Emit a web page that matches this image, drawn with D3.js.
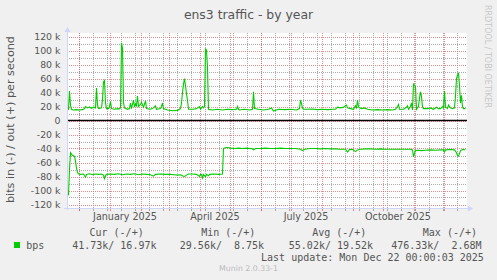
<!DOCTYPE html>
<html><head><meta charset="utf-8">
<script src="https://cdn.jsdelivr.net/npm/d3@7"></script>
<style>
body{margin:0;background:#f0f0f0}
svg{display:block}
text{font-family:"DejaVu Sans",sans-serif}
.mono{font-family:"DejaVu Sans Mono",monospace;white-space:pre}
</style>
</head><body>
<svg id="c" width="497" height="280"></svg>
<script>
// ---------- DATA ----------
const title = "ens3 traffic - by year";
const yAxisTitle = "bits in (-) / out (+) per second";
// outbound (+) traffic, k bits/s
const outSeries = [
["2024-11-19",15],["2024-11-20",16],["2024-11-21",42],["2024-11-22",22],["2024-11-23",16],["2024-11-25",15],
["2024-11-28",15.5],["2024-12-01",15],["2024-12-04",15.5],["2024-12-06",17],["2024-12-07",20],["2024-12-09",18],
["2024-12-11",19.5],["2024-12-13",17.5],["2024-12-15",19],["2024-12-17",18],["2024-12-18",46.5],["2024-12-19",22],
["2024-12-20",17],["2024-12-23",18],["2024-12-24",30],["2024-12-25",55],["2024-12-26",57],["2024-12-27",25],
["2024-12-28",17],["2024-12-30",17],["2024-12-31",20],["2025-01-01",27.5],["2025-01-02",17],["2025-01-05",16],
["2025-01-08",17],["2025-01-10",16.5],["2025-01-11",18],["2025-01-12",111],["2025-01-13",103],["2025-01-14",25],
["2025-01-15",18],["2025-01-18",16],["2025-01-20",17],["2025-01-21",25],["2025-01-22",17],["2025-01-24",29],
["2025-01-25",19],["2025-01-26",24],["2025-01-27",21],["2025-01-28",35],["2025-01-29",20],["2025-01-31",23],
["2025-02-01",26],["2025-02-02",22],["2025-02-03",19],["2025-02-05",28],["2025-02-06",17],["2025-02-10",16],
["2025-02-13",18],["2025-02-15",21],["2025-02-16",16],["2025-02-20",17],["2025-02-21",20],["2025-02-22",25],
["2025-02-23",17],["2025-02-27",15],["2025-03-04",14],["2025-03-09",14.5],["2025-03-12",17],["2025-03-13",25],
["2025-03-14",40],["2025-03-15",52],["2025-03-16",60],["2025-03-17",50],["2025-03-18",38],["2025-03-19",29],
["2025-03-20",16],["2025-03-25",16],["2025-03-28",17],["2025-03-31",20],["2025-04-01",16],["2025-04-03",20],
["2025-04-04",18],["2025-04-05",20],["2025-04-06",103],["2025-04-07",100],["2025-04-08",75],["2025-04-09",16],
["2025-04-13",15],["2025-04-18",16],["2025-04-23",15],["2025-04-28",16],["2025-05-03",15.5],["2025-05-07",16],
["2025-05-08",20],["2025-05-09",16],["2025-05-10",15],["2025-05-15",16],["2025-05-20",15],["2025-05-23",16],
["2025-05-24",41],["2025-05-25",17],["2025-05-29",16],["2025-06-03",15],["2025-06-08",16],["2025-06-11",18],
["2025-06-13",13.5],["2025-06-18",16],["2025-06-24",15.5],["2025-06-30",16],["2025-07-06",15],["2025-07-09",17],
["2025-07-10",29],["2025-07-11",24],["2025-07-12",18],["2025-07-13",16],["2025-07-17",16],["2025-07-22",16.5],
["2025-07-27",15.5],["2025-08-01",16],["2025-08-06",15.5],["2025-08-11",16],["2025-08-14",16],["2025-08-16",19],
["2025-08-19",18],["2025-08-22",19],["2025-08-24",21],["2025-08-25",22],["2025-08-26",18],["2025-08-29",17],
["2025-09-01",16],["2025-09-03",21],["2025-09-04",18],["2025-09-05",29],["2025-09-06",19],["2025-09-09",17],
["2025-09-12",18],["2025-09-15",16],["2025-09-20",15],["2025-09-25",15.5],["2025-09-30",15],["2025-10-05",15.5],
["2025-10-10",15],["2025-10-13",16],["2025-10-15",20],["2025-10-16",23],["2025-10-17",16],["2025-10-21",16],
["2025-10-24",19],["2025-10-25",21],["2025-10-26",16],["2025-10-28",20],["2025-10-29",25],["2025-10-30",15],
["2025-10-31",53],["2025-11-01",50],["2025-11-02",48],["2025-11-03",16],["2025-11-05",20],["2025-11-06",32],
["2025-11-07",41],["2025-11-08",34],["2025-11-09",20],["2025-11-10",17],["2025-11-14",17],["2025-11-17",18],
["2025-11-20",16],["2025-11-23",19],["2025-11-25",17],["2025-11-27",17],["2025-11-29",20],["2025-11-30",18],
["2025-12-01",42],["2025-12-02",19],["2025-12-04",17],["2025-12-05",22],["2025-12-07",18],["2025-12-09",17],
["2025-12-11",18],["2025-12-12",35],["2025-12-13",60],["2025-12-14",65],["2025-12-15",67],["2025-12-16",50],
["2025-12-17",25],["2025-12-18",36],["2025-12-19",20],["2025-12-20",17],["2025-12-22",17]
];
// inbound (-) traffic, k bits/s (drawn below zero)
const inSeries = [
["2024-11-19",105],["2024-11-20",106],["2024-11-21",70],["2024-11-22",46],["2024-11-23",48],["2024-11-24",50],
["2024-11-26",51],["2024-11-27",58],["2024-11-28",68],["2024-11-29",74],["2024-11-30",76],["2024-12-02",77],
["2024-12-05",76.5],["2024-12-07",81],["2024-12-08",77],["2024-12-11",76],["2024-12-14",77.5],["2024-12-17",76.5],
["2024-12-20",77],["2024-12-23",76.5],["2024-12-25",78],["2024-12-26",83],["2024-12-27",79],["2024-12-28",77],
["2025-01-01",76.5],["2025-01-05",77],["2025-01-09",76],["2025-01-13",77.5],["2025-01-17",76.5],["2025-01-21",77],
["2025-01-25",76],["2025-01-29",77.5],["2025-02-02",76.5],["2025-02-06",77],["2025-02-10",77.5],["2025-02-13",79.5],
["2025-02-15",77],["2025-02-20",76.5],["2025-02-25",77],["2025-03-02",77],["2025-03-06",77.5],["2025-03-09",78],
["2025-03-12",77.5],["2025-03-15",79.5],["2025-03-16",80],["2025-03-18",78],["2025-03-20",76.5],["2025-03-24",76.5],
["2025-03-28",77],["2025-03-31",80],["2025-04-01",77],["2025-04-02",77],["2025-04-03",82],["2025-04-04",77],
["2025-04-06",80.5],["2025-04-07",77],["2025-04-09",79],["2025-04-10",77],["2025-04-14",76.5],["2025-04-19",77],
["2025-04-23",76.5],["2025-04-24",40],["2025-04-26",39],["2025-04-28",38.5],["2025-05-01",39.5],["2025-05-05",40],
["2025-05-09",39.5],["2025-05-13",40],["2025-05-17",39.5],["2025-05-21",40],["2025-05-23",40.5],["2025-05-24",42],
["2025-05-26",40],["2025-05-31",40],["2025-06-05",39.5],["2025-06-10",40],["2025-06-15",40],["2025-06-20",39.5],
["2025-06-25",40],["2025-06-30",40],["2025-07-05",40],["2025-07-10",41],["2025-07-12",43],["2025-07-14",41],
["2025-07-20",40],["2025-07-25",40],["2025-07-30",40.5],["2025-08-04",40],["2025-08-09",40.5],["2025-08-14",40.5],
["2025-08-19",41],["2025-08-24",41],["2025-08-26",45],["2025-08-28",41.5],["2025-08-31",41],["2025-09-03",44.5],
["2025-09-05",42],["2025-09-08",41],["2025-09-13",40.5],["2025-09-18",40.5],["2025-09-23",41],["2025-09-28",40.5],
["2025-10-03",41],["2025-10-08",41],["2025-10-13",41],["2025-10-18",41],["2025-10-23",41],["2025-10-28",41],
["2025-10-30",42],["2025-10-31",52],["2025-11-01",47],["2025-11-02",43],["2025-11-05",42.5],["2025-11-08",43],
["2025-11-12",42.5],["2025-11-17",42],["2025-11-22",42.5],["2025-11-27",42],["2025-11-30",42],["2025-12-01",45],
["2025-12-02",42],["2025-12-07",41.5],["2025-12-11",42],["2025-12-13",46],["2025-12-14",50],["2025-12-15",51],
["2025-12-16",47],["2025-12-17",43],["2025-12-19",41.5],["2025-12-22",41.7]
];
const timeDomain = ["2024-11-19","2025-12-24"];
const valueDomain = [-125000, 125000];
const yTickValues = [-120000,-100000,-80000,-60000,-40000,-20000,0,20000,40000,60000,80000,100000,120000];
const yMinorValues = [-110000,-90000,-70000,-50000,-30000,-10000,10000,30000,50000,70000,90000,110000];
const xLabelMonths = ["2025-01-01","2025-04-01","2025-07-01","2025-10-01"];
const minorGridStart = "2024-12-01";
const legendHeaders = ["Cur (-/+)","Min (-/+)","Avg (-/+)","Max (-/+)"];
const legendValues = ["41.73k/ 16.97k","29.56k/  8.75k","55.02k/ 19.52k","476.33k/  2.68M"];
const seriesName = "bps";
const lastUpdate = "Last update: Mon Dec 22 00:00:03 2025";
const versionText = "Munin 2.0.33-1";
const watermark = "RRDTOOL / TOBI OETIKER";

// ---------- DRAW ----------
const parse = d3.timeParse("%Y-%m-%d");
const svg = d3.select("#c");
const L = 67, R = 467, T = 33, B = 208;
const x = d3.scaleTime().domain(timeDomain.map(parse)).range([L, R]);
const y = d3.scaleLinear().domain(valueDomain).range([B, T]);
const px = v => Math.round(v) + 0.5;

svg.append("rect").attr("width",497).attr("height",280).attr("fill","#f0f0f0");
svg.append("rect").attr("x",L).attr("y",T).attr("width",R-L).attr("height",B-T).attr("fill","#fff");

const gridMinor = "rgba(143,143,143,0.75)";
const gridMajor = "rgba(222,79,79,0.65)";
const g = svg.append("g");
// horizontal grid
g.selectAll(".hm").data(yMinorValues).join("line")
 .attr("x1",L).attr("x2",R).attr("y1",d=>px(y(d))).attr("y2",d=>px(y(d)))
 .attr("stroke",gridMinor).attr("stroke-dasharray","1,1");
g.selectAll(".hM").data(yTickValues).join("line")
 .attr("x1",L).attr("x2",R).attr("y1",d=>px(y(d))).attr("y2",d=>px(y(d)))
 .attr("stroke",gridMajor).attr("stroke-dasharray","1,1");
// vertical grid
const [d0, d1] = x.domain();
const minorDates = d3.timeDay.range(parse(minorGridStart), d1, 14);
const majorDates = d3.timeMonth.range(d0, d1);
g.selectAll(".vm").data(minorDates).join("line")
 .attr("x1",d=>px(x(d))).attr("x2",d=>px(x(d))).attr("y1",T).attr("y2",B)
 .attr("stroke",gridMinor).attr("stroke-dasharray","1,1");
g.selectAll(".vM").data(majorDates).join("line")
 .attr("x1",d=>px(x(d))).attr("x2",d=>px(x(d))).attr("y1",T).attr("y2",B)
 .attr("stroke",gridMajor).attr("stroke-dasharray","1,1");
// tick marks below axis
g.selectAll(".tm").data(minorDates).join("line")
 .attr("x1",d=>px(x(d))).attr("x2",d=>px(x(d))).attr("y1",B).attr("y2",B+3)
 .attr("stroke",gridMinor);
g.selectAll(".tM").data(majorDates).join("line")
 .attr("x1",d=>px(x(d))).attr("x2",d=>px(x(d))).attr("y1",B).attr("y2",B+3)
 .attr("stroke",gridMajor);

// data lines
const green = "#00cc00";
const lineOut = d3.line().x(d=>x(parse(d[0]))+0.5).y(d=>y(d[1]*1000));
const lineIn = d3.line().x(d=>x(parse(d[0]))+0.5).y(d=>y(-d[1]*1000));
svg.append("path").datum(outSeries).attr("d",lineOut).attr("fill","none").attr("stroke",green).attr("stroke-width",1.1);
svg.append("path").datum(inSeries).attr("d",lineIn).attr("fill","none").attr("stroke",green).attr("stroke-width",1.1);

// zero rule
svg.append("line").attr("x1",L).attr("x2",R).attr("y1",y(0)).attr("y2",y(0))
 .attr("stroke","#000").attr("stroke-width",1.4);

// axes
const axisCol = "#cfd6f8";
svg.append("line").attr("x1",L+0.5).attr("x2",L+0.5).attr("y1",B+2).attr("y2",T-4).attr("stroke",axisCol);
svg.append("line").attr("x1",L-3).attr("x2",R+2).attr("y1",B+0.5).attr("y2",B+0.5).attr("stroke",axisCol);
svg.append("path").attr("d",`M${L-2.5},${T-1} L${L+3.5},${T-1} L${L+0.5},${T-6} Z`).attr("fill",axisCol);
svg.append("path").attr("d",`M${R+1},${B-2.5} L${R+1},${B+3.5} L${R+6},${B+0.5} Z`).attr("fill",axisCol);

// y labels
const fontCol = "#555";
svg.selectAll(".yl").data(yTickValues).join("text")
 .attr("x",60.5).attr("y",d=>y(d)).attr("dy","0.36em").attr("text-anchor","end")
 .attr("font-size","9.4px").attr("fill",fontCol)
 .text(d=> d===0 ? "0" : (d/1000)+" k");
// x labels
const fmt = d3.timeFormat("%B %Y");
svg.selectAll(".xl").data(xLabelMonths.map(parse)).join("text")
 .attr("x",d=>x(d3.timeDay.offset(d,15))).attr("y",220).attr("text-anchor","middle")
 .attr("font-size","9.6px").attr("fill",fontCol).text(fmt);

// title
svg.append("text").attr("x",248.5).attr("y",18.7).attr("text-anchor","middle")
 .attr("font-size","12.4px").attr("fill",fontCol).text(title);
// y axis title
svg.append("text").attr("transform","translate(14,119.5) rotate(-90)").attr("text-anchor","middle")
 .attr("font-size","11.2px").attr("fill",fontCol).text(yAxisTitle);
// watermark
svg.append("text").attr("transform","translate(485,56.5) rotate(90)").attr("text-anchor","middle")
 .attr("font-size","8px").attr("fill","#c8c8c8").text(watermark);

// legend
const hx = [89.5,201.2,312.2,422.8];
const vx = [72.2,179.8,288.8,391.2];
svg.selectAll(".lh").data(legendHeaders).join("text").attr("class","mono")
 .attr("x",(d,i)=>hx[i]).attr("y",236).attr("font-size","10px").attr("fill",fontCol).text(d=>d);
svg.selectAll(".lv").data(legendValues).join("text").attr("class","mono")
 .attr("x",(d,i)=>vx[i]).attr("y",249.2).attr("font-size","10px").attr("fill",fontCol).text(d=>d);
svg.append("rect").attr("x",14).attr("y",242).attr("width",6).attr("height",6).attr("fill",green);
svg.append("text").attr("class","mono").attr("x",26.2).attr("y",249.2).attr("font-size","10px").attr("fill",fontCol).text(seriesName);
svg.append("text").attr("class","mono").attr("x",483.8).attr("y",261).attr("text-anchor","end")
 .attr("font-size","10px").attr("fill",fontCol).text(lastUpdate);
svg.append("text").attr("x",248.5).attr("y",271).attr("text-anchor","middle")
 .attr("font-size","7.8px").attr("fill","#bbb").text(versionText);
</script>
</body></html>
